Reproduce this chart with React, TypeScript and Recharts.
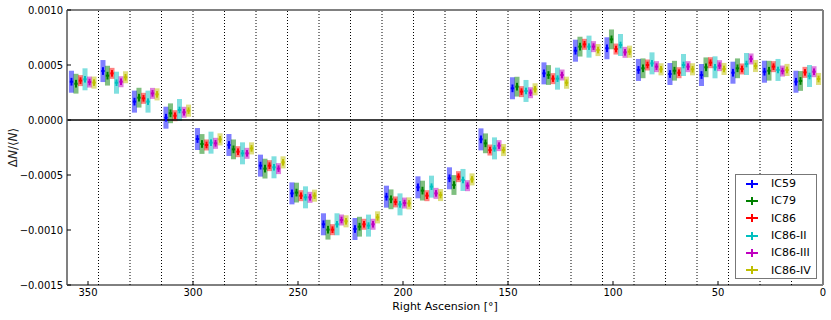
import React from 'react';
import {
  ScatterChart,
  Scatter,
  XAxis,
  YAxis,
  ErrorBar,
  ReferenceArea,
  ReferenceLine,
  Legend,
  Label,
} from 'recharts';

// bin centres in right ascension (deg), 15 deg bins
const raCenters = [
  352.5, 337.5, 322.5, 307.5, 292.5, 277.5, 262.5, 247.5, 232.5, 217.5, 202.5, 187.5,
  172.5, 157.5, 142.5, 127.5, 112.5, 97.5, 82.5, 67.5, 52.5, 37.5, 22.5, 7.5,
];
const binEdges = [345, 330, 315, 300, 285, 270, 255, 240, 225, 210, 195, 180, 165, 150, 135, 120, 105, 90, 75, 60, 45, 30, 15];
const xTicks = [350, 300, 250, 200, 150, 100, 50, 0];
const yTicks = [-0.0015, -0.001, -0.0005, 0, 0.0005, 0.001];

// relative intensity per bin
const ic59 = [
  0.000348, 0.000445, 0.000167, 0.000021, -0.000173, -0.000227, -0.000415, -0.000667, -0.000948, -0.000991, -0.000697, -0.000612,
  -0.00053, -0.000176, 0.000288, 0.000424, 0.00063, 0.000652, 0.000455, 0.000418, 0.000409, 0.00043, 0.000439, 0.000348,
];
const ic79 = [
  0.00033, 0.000403, 0.000203, 0.000061, -0.000218, -0.000267, -0.000442, -0.00066, -0.000997, -0.00097, -0.000721, -0.000642,
  -0.000591, -0.000212, 0.000303, 0.000409, 0.000667, 0.000733, 0.00047, 0.000448, 0.000479, 0.00047, 0.000448, 0.000355,
];
const ic86 = [
  0.000358, 0.000424, 0.000197, 0.000039, -0.000227, -0.000288, -0.000415, -0.000688, -0.000997, -0.000948, -0.000745, -0.000688,
  -0.000515, -0.000273, 0.000258, 0.000376, 0.000688, 0.000645, 0.0005, 0.00043, 0.000521, 0.000464, 0.000485, 0.000433,
];
const ic86ii = [
  0.00037, 0.000339, 0.000167, 0.000091, -0.000206, -0.000303, -0.00043, -0.000703, -0.000948, -0.00096, -0.000767, -0.000606,
  -0.000545, -0.000258, 0.000264, 0.000376, 0.000667, 0.000682, 0.000515, 0.0005, 0.000479, 0.000509, 0.000455, 0.0004,
];
const ic86iii = [
  0.000345, 0.000348, 0.000242, 0.00007, -0.000212, -0.000303, -0.000442, -0.000703, -0.000909, -0.000948, -0.000755, -0.000667,
  -0.000597, -0.000233, 0.000248, 0.000409, 0.000667, 0.000615, 0.000485, 0.000485, 0.000494, 0.000555, 0.000445, 0.000439,
];
const ic86iv = [
  0.00034, 0.000388, 0.000233, 0.000085, -0.000176, -0.000258, -0.000385, -0.000688, -0.000921, -0.000885, -0.000758, -0.000682,
  -0.00054, -0.000273, 0.000279, 0.000339, 0.000636, 0.000621, 0.000461, 0.000461, 0.000464, 0.000491, 0.000455, 0.000373,
];

const names = ['IC59', 'IC79', 'IC86', 'IC86-II', 'IC86-III', 'IC86-IV'];
const colors = ['#0000ff', '#008000', '#ff0000', '#00bfbf', '#bf00bf', '#bfbf00'];
const values = [ic59, ic79, ic86, ic86ii, ic86iii, ic86iv];
const sysErr = [0.0001, 0.00009, 0.00005, 0.0001, 0.00005, 0.000055];
const statErr = [0.000035, 0.000035, 0.00003, 0.00003, 0.00003, 0.00003];

const FONT = '"DejaVu Sans", sans-serif';
const SPINE = '#808080';

const series = names.map((name, i) => ({
  name,
  color: colors[i],
  sys: sysErr[i],
  data: values[i].map((y, b) => ({
    x: raCenters[b] + (2.5 - i) * 2.15,
    y,
    ex: 0.8,
    ey: statErr[i],
  })),
}));

const fmtY = (v: number) => (v < 0 ? '\u2212' : '') + Math.abs(v).toFixed(4);

function LegendBox() {
  return (
    <div
      style={{
        width: 82,
        height: 105,
        border: '1px solid #777',
        background: '#fff',
        boxSizing: 'border-box',
        fontFamily: FONT,
        fontSize: 11,
        color: '#000',
      }}
    >
      {series.map((s) => (
        <div key={s.name} style={{ display: 'flex', alignItems: 'center', height: 17.3 }}>
          <svg width={35} height={12} style={{ flex: 'none' }}>
            <line x1={10} x2={22} y1={6} y2={6} stroke={s.color} strokeWidth={2} />
            <line x1={16} x2={16} y1={2} y2={10} stroke={s.color} strokeWidth={2} />
          </svg>
          <span>{s.name}</span>
        </div>
      ))}
    </div>
  );
}

const renderYLabel = (props: any) => {
  const vb = props.viewBox;
  const cx = vb.x + 13;
  const cy = vb.y + vb.height / 2;
  return (
    <text
      x={cx}
      y={cy}
      transform={`rotate(-90 ${cx} ${cy})`}
      textAnchor="middle"
      dominantBaseline="central"
      fontFamily={FONT}
      fontSize={12}
      fill="#222"
    >
      Δ<tspan fontStyle="italic">N</tspan>/⟨<tspan fontStyle="italic">N</tspan>⟩
    </text>
  );
};

const renderXLabel = (props: any) => {
  const vb = props.viewBox;
  return (
    <text x={vb.x + vb.width / 2} y={vb.y + 25} textAnchor="middle" fontFamily={FONT} fontSize={11} fill="#000">
      Right Ascension [°]
    </text>
  );
};

export default function App() {
  return (
    <div style={{ position: 'absolute', left: 0, top: 0, width: 831, height: 320, background: '#fff' }}>
      <ScatterChart width={831} height={320} margin={{ top: 0, right: 0, bottom: 0, left: 0 }}>
        <XAxis
          dataKey="x"
          type="number"
          domain={[0, 360]}
          reversed
          ticks={xTicks}
          interval={0}
          height={35}
          tickSize={-4}
          tickMargin={8}
          axisLine={{ stroke: '#000', strokeWidth: 1 }}
          tickLine={{ stroke: '#000' }}
          tick={{ fontFamily: FONT, fontSize: 10, fill: '#000' }}
        >
          <Label content={renderXLabel} />
        </XAxis>
        <XAxis
          xAxisId="top"
          orientation="top"
          dataKey="x"
          type="number"
          domain={[0, 360]}
          reversed
          ticks={xTicks}
          height={10}
          tickSize={-4}
          axisLine={{ stroke: SPINE, strokeWidth: 2 }}
          tickLine={{ stroke: '#000' }}
          tick={false}
        />
        <YAxis
          dataKey="y"
          type="number"
          domain={[-0.0015, 0.001]}
          ticks={yTicks}
          interval={0}
          width={67}
          tickSize={-4}
          tickMargin={8}
          tickFormatter={fmtY}
          axisLine={{ stroke: SPINE, strokeWidth: 2 }}
          tickLine={{ stroke: '#000' }}
          tick={{ fontFamily: FONT, fontSize: 10, fill: '#000' }}
        >
          <Label content={renderYLabel} />
        </YAxis>
        <YAxis
          yAxisId="right"
          orientation="right"
          dataKey="y"
          type="number"
          domain={[-0.0015, 0.001]}
          ticks={yTicks}
          width={8}
          tickSize={-4}
          axisLine={{ stroke: SPINE, strokeWidth: 2 }}
          tickLine={{ stroke: '#000' }}
          tick={false}
        />
        {binEdges.map((e) => (
          <ReferenceLine key={'e' + e} x={e} stroke="#000" strokeDasharray="1 2" strokeWidth={1} />
        ))}
        <ReferenceLine y={0} stroke="#000" strokeWidth={1.5} />
        {series.map((s) =>
          s.data.map((d, j) => (
            <ReferenceArea
              key={s.name + '-' + j}
              x1={d.x - 1.2}
              x2={d.x + 1.2}
              y1={d.y - s.sys}
              y2={d.y + s.sys}
              fill={s.color}
              fillOpacity={0.5}
              stroke="none"
              ifOverflow="visible"
            />
          ))
        )}
        {series.map((s) => (
          <Scatter
            key={s.name}
            name={s.name}
            data={s.data}
            dataKey="y"
            fill={s.color}
            shape={() => <g />}
            isAnimationActive={false}
          >
            <ErrorBar dataKey="ey" direction="y" width={0} stroke={s.color} strokeWidth={2} isAnimationActive={false} />
            <ErrorBar dataKey="ex" direction="x" width={0} stroke={s.color} strokeWidth={2} isAnimationActive={false} />
          </Scatter>
        ))}
        <Legend
          layout="horizontal"
          verticalAlign="middle"
          align="center"
          content={() => <LegendBox />}
          wrapperStyle={{ position: 'absolute', left: 735, top: 174, width: 82, height: 105 }}
        />
      </ScatterChart>
    </div>
  );
}
